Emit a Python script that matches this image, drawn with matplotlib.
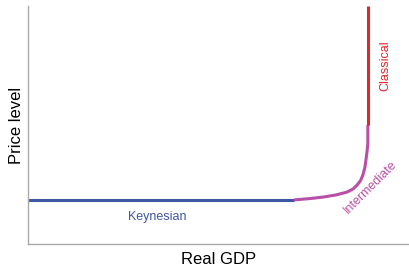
import numpy as np
import matplotlib.pyplot as plt

plt.rcParams['font.family'] = ['Liberation Sans', 'DejaVu Sans']

# segments of the aggregate supply curve (data units, 0-100)
keynes_x = [0, 69.8]
keynes_y = [18.5, 18.5]
inter_x = [69.8, 74.0, 77.4, 80.8, 83.7, 85.3, 86.4, 87.3, 87.9, 88.4, 88.7, 89.0, 89.2, 89.2]
inter_y = [18.5, 19.1, 19.7, 20.6, 21.8, 23.1, 24.8, 26.7, 29.0, 32.0, 35.3, 39.0, 42.4, 50.0]
class_x = [89.2, 89.2]
class_y = [50.0, 100]

blue = '#3f56a6'
magenta = '#b94fa6'
red = '#e3262c'

fig = plt.figure(figsize=(4.09, 2.70), dpi=100)
ax = fig.add_axes([28/409, 26/270, 381/409, 238/270])

ax.plot(keynes_x, keynes_y, color=blue, lw=2.2, solid_capstyle='butt')
ax.plot(inter_x, inter_y, color=magenta, lw=2.2, solid_capstyle='butt')
ax.plot(class_x, class_y, color=red, lw=2.2, solid_capstyle='butt')

ax.text(34, 11.5, 'Keynesian', color=blue, fontsize=9, ha='center', va='center')
ax.text(93.8, 75, 'Classical', color=red, fontsize=9, ha='center', va='center', rotation=90)
ax.text(89.8, 24, 'Intermediate', color=magenta, fontsize=9, ha='center', va='center', rotation=45)

ax.set_xlim(0, 100)
ax.set_ylim(0, 100)
ax.set_xticks([])
ax.set_yticks([])
for s in ['top', 'right']:
    ax.spines[s].set_visible(False)
for s in ['left', 'bottom']:
    ax.spines[s].set_color('#aaaaaa')
    ax.spines[s].set_linewidth(1)

ax.set_xlabel('Real GDP', fontsize=12, labelpad=6)
ax.set_ylabel('Price level', fontsize=12, labelpad=3)

fig.savefig('out.png', dpi=100)
